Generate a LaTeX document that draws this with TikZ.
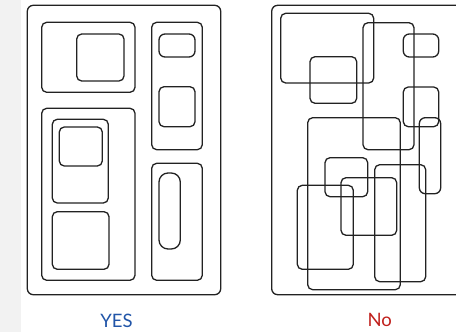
\documentclass[tikz,border=0pt]{standalone}
\usepackage{fontspec}
\setmainfont{Lato}
\definecolor{stripgray}{HTML}{F2F2F2}
\definecolor{lineink}{HTML}{222222}
\definecolor{yesblue}{HTML}{2155A8}
\definecolor{nored}{HTML}{C0201C}
\begin{document}
\begin{tikzpicture}[x=1pt,y=-1pt,
  box/.style={draw=lineink,line width=1.3pt,rounded corners=5pt},
  outerbox/.style={draw=lineink,line width=1.3pt,rounded corners=6pt},
  pill/.style={draw=lineink,line width=1.3pt,rounded corners=9pt},
  caption/.style={font=\fontsize{18.5}{20}\selectfont,inner sep=0pt}]
\useasboundingbox (0,0) rectangle (456,332);
\clip (0,0) rectangle (456,332);
\fill[stripgray] (0,0) rectangle (21,332);
% YES panel
\draw[outerbox] (27.3,5.3) rectangle (220.7,294.7);
\draw[box] (41.7,22.3) rectangle (135,92.3);
\draw[box] (76.7,34) rectangle (124,81);
\draw[box] (151.7,22.3) rectangle (202.3,149.7);
\draw[box,rounded corners=6pt] (159,34) rectangle (195,57);
\draw[box] (159,86.7) rectangle (195,126.7);
\draw[box] (41.7,108.3) rectangle (135,280.3);
\draw[box] (52.3,119.3) rectangle (108.3,203);
\draw[box] (59.3,127) rectangle (102.3,166);
\draw[box] (52.3,211.7) rectangle (109,269.3);
\draw[box] (151.7,163.3) rectangle (202.3,280.3);
\draw[pill] (159,173) rectangle (180.3,249);
\node[caption,text=yesblue] (yes) at (116.5,321) {YES};
% No panel
\draw[outerbox] (271.7,5.3) rectangle (470,294.7);
\draw[box] (280.7,13.3) rectangle (373.7,83);
\draw[box] (310,56.7) rectangle (356.7,103.3);
\draw[box] (363,22.7) rectangle (414,149.7);
\draw[box,rounded corners=6pt] (403.3,34) rectangle (438.7,57);
\draw[box] (403.3,87) rectangle (438.7,126.7);
\draw[box,rounded corners=6pt] (419.3,117.7) rectangle (440.7,193.7);
\draw[box] (307.7,117.7) rectangle (400.3,289.7);
\draw[box] (325,157.7) rectangle (367.7,196.7);
\draw[box] (341,177.7) rectangle (396.7,235.3);
\draw[box] (297.3,185.3) rectangle (353.3,269.3);
\draw[box] (374.7,164.7) rectangle (425.7,281.7);
\node[caption,text=nored] (no) at (379.7,320) {No};
\end{tikzpicture}
\end{document}
